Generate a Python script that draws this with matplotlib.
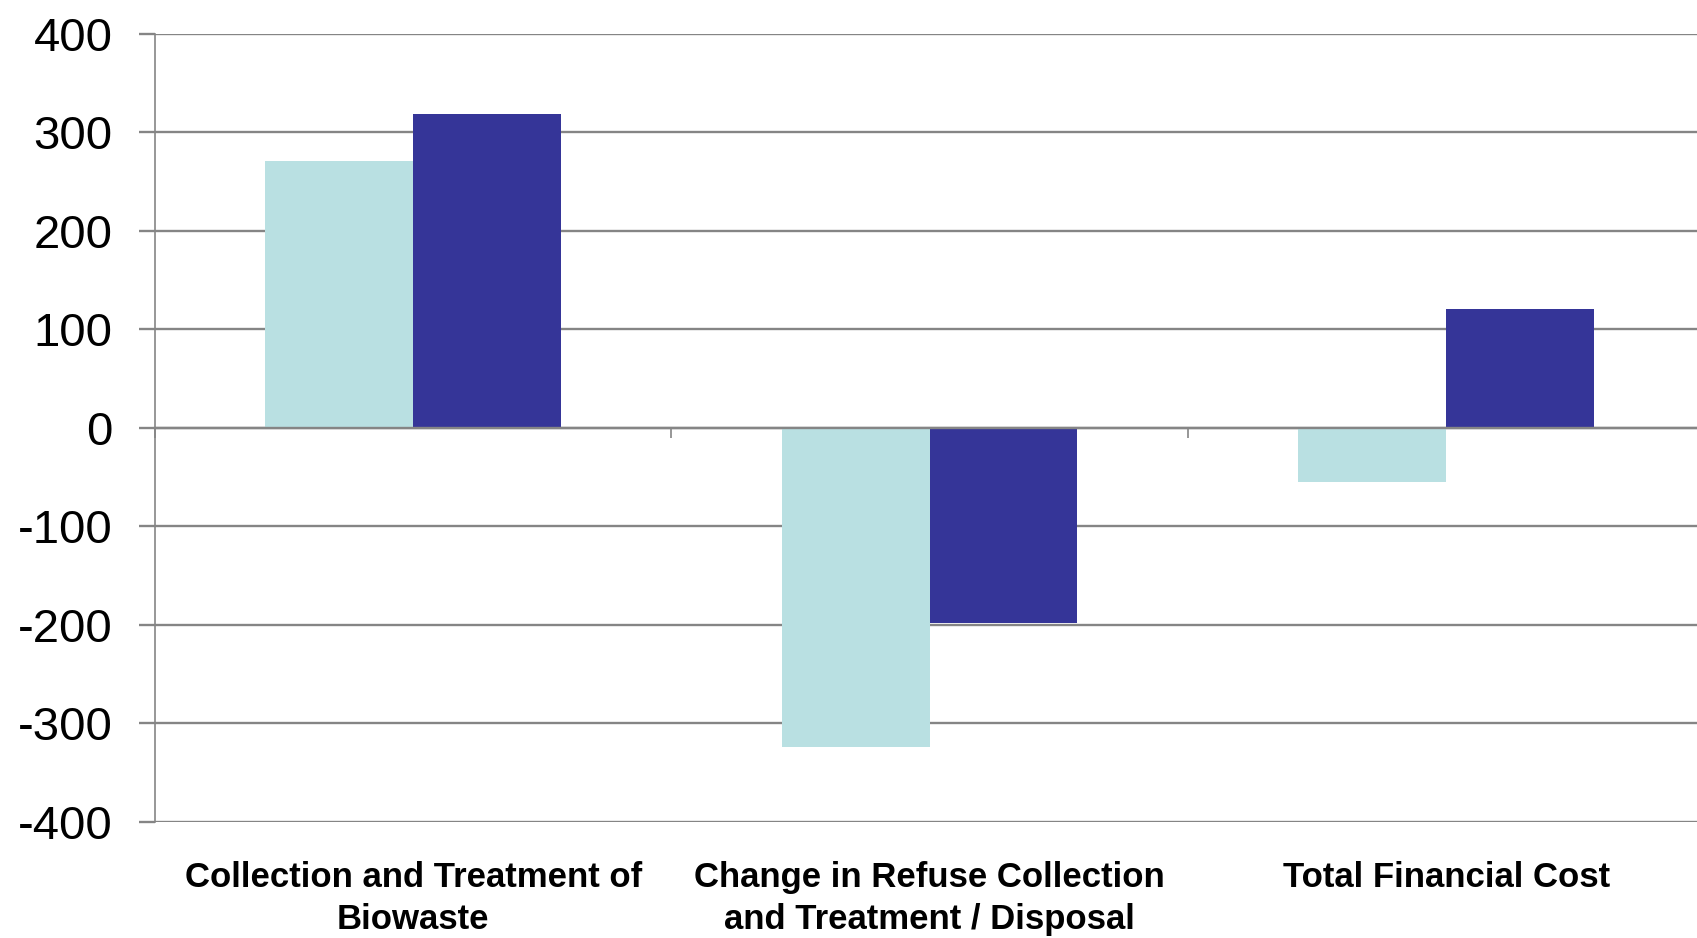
import matplotlib
matplotlib.use("Agg")
import matplotlib.pyplot as plt
import matplotlib.transforms as mtransforms
import numpy as np

plt.rcParams['font.family'] = ['Liberation Sans', 'DejaVu Sans']

categories = ["Collection and Treatment of\nBiowaste",
              "Change in Refuse Collection\nand Treatment / Disposal",
              "Total Financial Cost"]
series_light = [271, -324, -55]
series_dark = [319, -198, 121]
yticks = [-400, -300, -200, -100, 0, 100, 200, 300, 400]

light_color = "#B9E0E2"
dark_color = "#353598"
grid_color = "#858585"

fig = plt.figure(figsize=(16.97, 9.38), dpi=100)
ax = fig.add_axes([0.0913, 0.124, 0.913, 0.840])

x = np.arange(len(categories))
w = 0.286
ax.bar(x - w / 2, series_light, width=w, color=light_color, zorder=3)
ax.bar(x + w / 2, series_dark, width=w, color=dark_color, zorder=3)

ax.set_xlim(-0.5, len(categories) - 0.5)
ax.set_ylim(-400, 400)
ax.set_yticks(yticks)
ax.set_yticklabels([str(v) for v in yticks], fontsize=34)
ax.yaxis.grid(True, color=grid_color, linewidth=1.7, zorder=0)
ax.set_axisbelow(True)

for s in ['top', 'right']:
    ax.spines[s].set_visible(False)
ax.spines['left'].set_color(grid_color)
ax.spines['left'].set_linewidth(1.2)
ax.spines['bottom'].set_position(('data', 0))
ax.spines['bottom'].set_color(grid_color)
ax.spines['bottom'].set_linewidth(1.7)
ax.spines['bottom'].set_zorder(4)

ax.tick_params(axis='y', length=11.5, width=1.7, color=grid_color, pad=19, labelcolor='black')
ax.set_xticks(np.arange(-0.5, len(categories), 1.0))
ax.set_xticklabels([])
ax.tick_params(axis='x', length=7, width=1.2, color=grid_color, direction='out')

trans = mtransforms.blended_transform_factory(ax.transData, ax.transAxes)
for xi, lab in zip(x, categories):
    ax.text(xi, -0.050, lab, transform=trans, ha='center', va='top',
            fontsize=25, fontweight='bold', linespacing=1.36)

fig.savefig("out.png", dpi=100)
